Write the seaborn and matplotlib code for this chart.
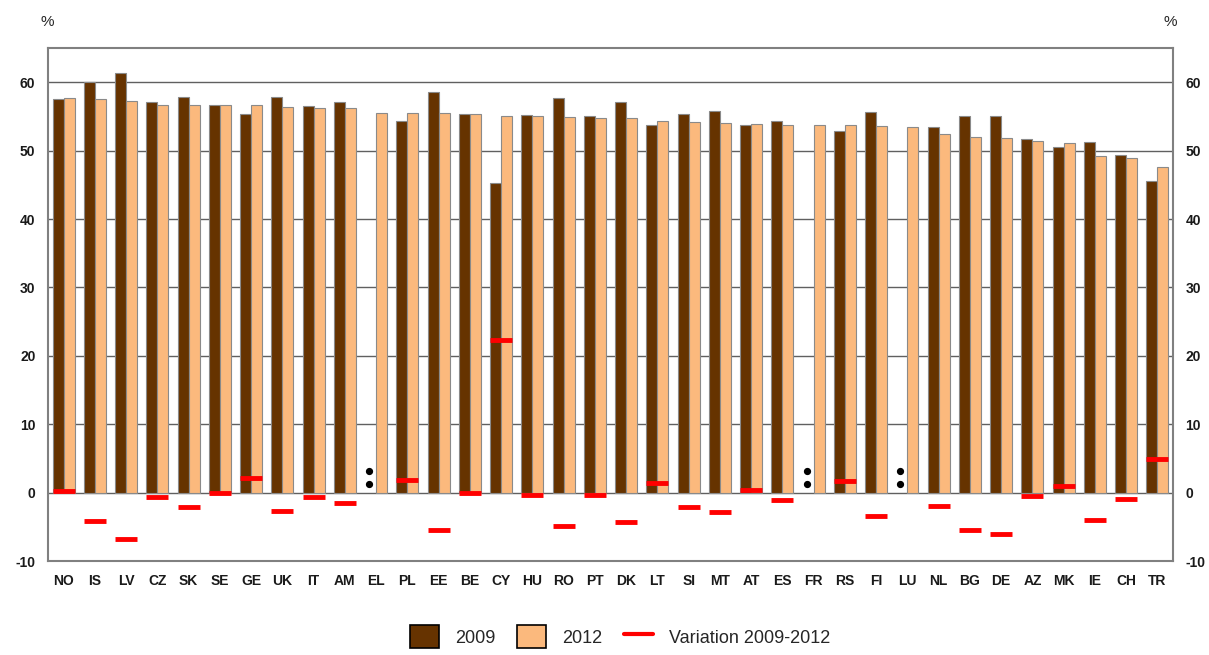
import numpy as np
import pandas as pd
import seaborn as sns
import matplotlib.pyplot as plt
from matplotlib.patches import Patch
from matplotlib.lines import Line2D

# Data
countries = ["NO", "IS", "LV", "CZ", "SK", "SE", "GE", "UK", "IT", "AM", "EL", "PL",
             "EE", "BE", "CY", "HU", "RO", "PT", "DK", "LT", "SI", "MT", "AT", "ES",
             "FR", "RS", "FI", "LU", "NL", "BG", "DE", "AZ", "MK", "IE", "CH", "TR"]
val_2009 = [57.6, 60.0, 61.3, 57.1, 57.9, 56.6, 55.3, 57.9, 56.5, 57.1, np.nan, 54.4,
            58.6, 55.4, 45.2, 55.2, 57.7, 55.0, 57.1, 53.7, 55.3, 55.8, 53.7, 54.4,
            np.nan, 52.8, 55.6, np.nan, 53.5, 55.0, 55.0, 51.7, 50.6, 51.2, 49.3, 45.6]
val_2012 = [57.7, 57.6, 57.2, 56.7, 56.7, 56.6, 56.6, 56.4, 56.2, 56.2, 55.5, 55.5,
            55.5, 55.4, 55.0, 55.0, 54.9, 54.8, 54.7, 54.4, 54.2, 54.1, 53.9, 53.7,
            53.7, 53.7, 53.6, 53.5, 52.4, 52.0, 51.8, 51.4, 51.1, 49.2, 48.9, 47.6]
variation = [0.3, -4.2, -6.8, -0.6, -2.1, -0.1, 2.2, -2.7, -0.6, -1.5, np.nan, 1.9,
             -5.4, -0.1, 22.3, -0.4, -4.9, -0.4, -4.3, 1.4, -2.1, -2.9, 0.4, -1.1,
             np.nan, 1.7, -3.4, np.nan, -2.0, -5.5, -6.1, -0.5, 1.0, -4.0, -0.9, 4.9]

dark = "#663300"
light = "#FBB97D"
red = "#FF0000"

df = pd.DataFrame({"country": countries * 2,
                   "year": ["2009"] * len(countries) + ["2012"] * len(countries),
                   "value": val_2009 + val_2012})

sns.set_style("white")
plt.rcParams["font.family"] = ["Liberation Sans", "DejaVu Sans"]
plt.rcParams["axes.unicode_minus"] = False

fig = plt.figure(figsize=(12.09, 6.55), dpi=100)
ax = fig.add_axes([0.0397, 0.1435, 0.9305, 0.7832])

sns.barplot(data=df, x="country", y="value", hue="year", palette=[dark, light],
            width=0.7, saturation=1, edgecolor="#8a8a8a", linewidth=0.8,
            legend=False, ax=ax, zorder=2)

# variation markers, and ':' for missing data
for i, v in enumerate(variation):
    if np.isnan(v):
        ax.plot([i - 0.22, i - 0.22], [1.3, 3.2], linestyle="none", marker="o",
                markersize=4.2, color="black", zorder=4)
    else:
        ax.hlines(v, i - 0.35, i + 0.35, color=red, linewidth=3.5, zorder=3)

ax.set_ylim(-10, 65)
ax.set_xlim(-0.5, len(countries) - 0.5)
ax.set_yticks(range(-10, 61, 10))
for y in range(0, 61, 10):
    ax.axhline(y, color="#606060", linewidth=1.0, zorder=1)

for s in ax.spines.values():
    s.set_visible(True)
    s.set_color("#808080")
    s.set_linewidth(1.5)

ax.set_xlabel("")
ax.set_ylabel("")
ax.tick_params(axis="x", length=0, pad=9, labelsize=10, colors="#1a1a1a")
ax.tick_params(axis="y", length=0, pad=9, labelsize=10, colors="#1a1a1a")
for lab in ax.get_xticklabels() + ax.get_yticklabels():
    lab.set_fontweight("bold")

ax2 = ax.twinx()
ax2.set_ylim(ax.get_ylim())
ax2.set_yticks(range(-10, 61, 10))
ax2.tick_params(axis="y", length=0, pad=9, labelsize=10, colors="#1a1a1a")
for lab in ax2.get_yticklabels():
    lab.set_fontweight("bold")
for s in ax2.spines.values():
    s.set_visible(False)

fig.text(0.039, 0.966, "%", ha="center", va="center", fontsize=11)
fig.text(0.968, 0.966, "%", ha="center", va="center", fontsize=11)

handles = [Patch(facecolor=dark, edgecolor="black", linewidth=1.2, label="2009"),
           Patch(facecolor=light, edgecolor="black", linewidth=1.2, label="2012"),
           Line2D([0], [0], color=red, linewidth=3, label="Variation 2009-2012")]
fig.legend(handles=handles, loc="center", bbox_to_anchor=(0.513, 0.028), ncol=3,
           frameon=False, fontsize=13, handlelength=1.6, handleheight=1.6,
           columnspacing=1.2, handletextpad=0.9)

fig.savefig("out.png", dpi=100)
